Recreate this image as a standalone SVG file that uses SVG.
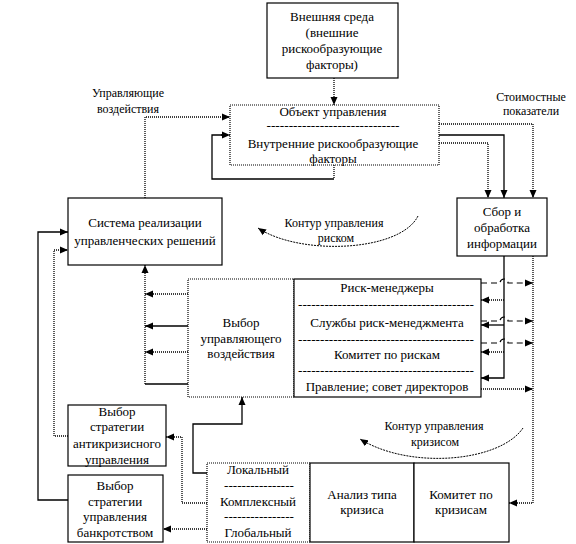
<svg xmlns="http://www.w3.org/2000/svg" width="576" height="544" viewBox="0 0 576 544" font-family="'Liberation Serif', 'DejaVu Serif', serif">
<style>
.box{fill:#fff;stroke:#000;stroke-width:1.2}
.dbox{fill:#fff;stroke:#000;stroke-width:1.2;stroke-dasharray:1,1}
.t{font-size:13px;text-anchor:middle;fill:#000}
.lb{font-size:12px;text-anchor:middle;fill:#000}
.s{fill:none;stroke:#000;stroke-width:1.3}
.d{fill:none;stroke:#000;stroke-width:1.3;stroke-dasharray:1,1}
.da{fill:none;stroke:#000;stroke-width:1.2;stroke-dasharray:6,4}
.c{fill:none;stroke:#000;stroke-width:1;stroke-dasharray:2,1}
</style>
<defs>
<marker id="ah" markerUnits="userSpaceOnUse" markerWidth="8" markerHeight="8" refX="8" refY="4" orient="auto">
<path d="M0,0.5 L8,4 L0,7.5 z" fill="#000"/>
</marker>
</defs>
<rect width="576" height="544" fill="#fff"/>

<g id="connectors">
<path class="d" d="M334,78 V105" marker-end="url(#ah)"/>
<path class="d" d="M145,198 V117 H230" marker-end="url(#ah)"/>
<path class="d" d="M334,165 V179"/>
<path class="s" d="M334,179 H212 V135 H222"/>
<path class="d" d="M221,135 H230" marker-end="url(#ah)"/>
<path class="d" d="M439,124 H533 V198" marker-end="url(#ah)"/>
<path class="s" d="M439,135 H504 V198" marker-end="url(#ah)"/>
<path class="d" d="M439,143 H488 V198" marker-end="url(#ah)"/>
<path class="s" d="M504,256 V378 H481" marker-end="url(#ah)"/>
<path class="s" d="M504,325 H481" marker-end="url(#ah)"/>
<path class="d" d="M504,300 H481" marker-end="url(#ah)"/>
<path class="d" d="M504,352 H481" marker-end="url(#ah)"/>
<path class="da" d="M481,283 H500 a4,4 0 0 1 8,0 H533" marker-end="url(#ah)"/>
<path class="da" d="M481,321 H500 a4,4 0 0 1 8,0 H533" marker-end="url(#ah)"/>
<path class="da" d="M481,343 H500 a4,4 0 0 1 8,0 H533" marker-end="url(#ah)"/>
<path class="d" d="M481,389 H533" stroke-dasharray="4,3" marker-end="url(#ah)"/>
<path class="d" d="M533,256 V503 H509" marker-end="url(#ah)"/>
<path class="d" d="M188,294 H145" marker-end="url(#ah)"/>
<path class="s" d="M188,326 H145" marker-end="url(#ah)"/>
<path class="d" d="M188,352 H145" marker-end="url(#ah)"/>
<path class="s" d="M188,384 H145"/>
<path class="d" d="M145,384 V265" marker-end="url(#ah)"/>
<path class="s" d="M68,500 H38 V232 H68" marker-end="url(#ah)"/>
<path class="d" d="M68,436 H54 V250 H68" marker-end="url(#ah)"/>
<path class="s" d="M207,473 H193 V424 H242 V397" marker-end="url(#ah)"/>
<path class="d" d="M207,503 H182 V437 H166" marker-end="url(#ah)"/>
<path class="d" d="M207,529 H163" marker-end="url(#ah)"/>
<path class="c" d="M418,216 C400,252 300,256 258,228" marker-end="url(#ah)"/>
<path class="c" d="M523,428 C500,462 410,470 360,439" marker-end="url(#ah)"/>
</g>

<g id="n-external">
<rect class="box" x="267" y="3" width="131" height="75"/>
<text class="t" x="332" y="21">Внешняя среда</text>
<text class="t" x="332" y="37">(внешние</text>
<text class="t" x="332" y="53">рискообразующие</text>
<text class="t" x="332" y="69">факторы)</text>
</g>

<g id="n-object">
<rect class="dbox" x="230" y="105" width="209" height="60"/>
<text class="t" x="333" y="116">Объект управления</text>
<text class="t" x="333" y="130" textLength="133" lengthAdjust="spacingAndGlyphs">------------------------------</text>
<text class="t" x="333" y="148">Внутренние рискообразующие</text>
<text class="t" x="333" y="163">факторы</text>
</g>

<g id="n-system">
<rect class="box" x="68" y="198" width="154" height="67"/>
<text class="t" x="145" y="227">Система реализации</text>
<text class="t" x="145" y="245">управленческих решений</text>
</g>

<g id="n-collect">
<rect class="box" x="457" y="198" width="90" height="58"/>
<text class="t" x="502" y="216">Сбор и</text>
<text class="t" x="502" y="232">обработка</text>
<text class="t" x="502" y="248">информации</text>
</g>

<g id="n-choose">
<rect class="dbox" x="188" y="279" width="106" height="118"/>
<text class="t" x="241" y="327">Выбор</text>
<text class="t" x="241" y="343">управляющего</text>
<text class="t" x="241" y="358">воздействия</text>
</g>

<g id="n-risk">
<rect class="box" x="294" y="279" width="187" height="118"/>
<text class="t" x="387" y="292">Риск-менеджеры</text>
<text class="t" x="386" y="309" textLength="176" lengthAdjust="spacingAndGlyphs">----------------------------------------</text>
<text class="t" x="387" y="327">Службы риск-менеджмента</text>
<text class="t" x="386" y="344" textLength="176" lengthAdjust="spacingAndGlyphs">----------------------------------------</text>
<text class="t" x="387" y="359">Комитет по рискам</text>
<text class="t" x="386" y="375" textLength="176" lengthAdjust="spacingAndGlyphs">----------------------------------------</text>
<text class="t" x="387" y="391">Правление;  совет директоров</text>
</g>

<g id="n-anticrisis">
<rect class="box" x="68" y="405" width="98" height="61"/>
<text class="t" x="117" y="416">Выбор</text>
<text class="t" x="117" y="431">стратегии</text>
<text class="t" x="117" y="448">антикризисного</text>
<text class="t" x="117" y="464">управления</text>
</g>

<g id="n-bankrupt">
<rect class="box" x="68" y="475" width="95" height="67"/>
<text class="t" x="115" y="490">Выбор</text>
<text class="t" x="115" y="506">стратегии</text>
<text class="t" x="115" y="521">управления</text>
<text class="t" x="115" y="537">банкротством</text>
</g>

<g id="n-crisis-type">
<rect class="dbox" x="207" y="463" width="103" height="79"/>
<text class="t" x="258" y="474">Локальный</text>
<text class="t" x="259" y="490" textLength="70" lengthAdjust="spacingAndGlyphs">----------------</text>
<text class="t" x="258" y="506">Комплексный</text>
<text class="t" x="259" y="521" textLength="70" lengthAdjust="spacingAndGlyphs">----------------</text>
<text class="t" x="258" y="537">Глобальный</text>
</g>

<g id="n-analysis">
<rect class="box" x="310" y="463" width="104" height="79"/>
<text class="t" x="362" y="499">Анализ типа</text>
<text class="t" x="362" y="514">кризиса</text>
</g>

<g id="n-committee">
<rect class="box" x="414" y="463" width="95" height="79"/>
<text class="t" x="461" y="499">Комитет по</text>
<text class="t" x="461" y="514">кризисам</text>
</g>

<g id="labels">
<text class="lb" x="128" y="97">Управляющие</text>
<text class="lb" x="128" y="113">воздействия</text>
<text class="lb" x="531" y="101">Стоимостные</text>
<text class="lb" x="531" y="115">показатели</text>
<text class="lb" x="334" y="227">Контур управления</text>
<text class="lb" x="336" y="242">риском</text>
<text class="lb" x="434" y="430">Контур управления</text>
<text class="lb" x="435" y="446">кризисом</text>
</g>
</svg>
